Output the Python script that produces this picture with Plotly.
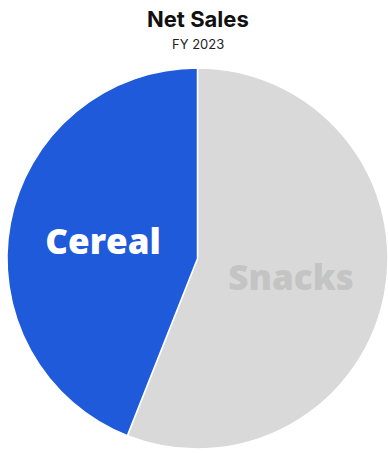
import plotly.graph_objects as go

# Net sales split by segment, FY 2023 (percent of total)
segments = ["Snacks", "Cereal"]
share = [56, 44]
slice_colors = ["#d9d9d9", "#1f5ada"]
label_colors = ["#c4c4c4", "#ffffff"]

fig = go.Figure(
    go.Pie(
        labels=segments,
        values=share,
        sort=False,
        direction="clockwise",
        rotation=0,
        marker=dict(colors=slice_colors, line=dict(color="#ffffff", width=1.5)),
        textinfo="label",
        textposition="inside",
        insidetextorientation="horizontal",
        insidetextfont=dict(family="Open Sans", size=35, color=label_colors, weight=800),
        hoverinfo="label+percent",
        showlegend=False,
    )
)

fig.update_layout(
    width=388,
    height=453,
    margin=dict(l=7, r=0, t=68, b=4),
    paper_bgcolor="#ffffff",
    plot_bgcolor="#ffffff",
    uniformtext=dict(minsize=35, mode="show"),
    annotations=[
        dict(text="<b>Net Sales</b>", x=0.5, y=1, xref="paper", yref="paper",
             xanchor="center", yanchor="top", yshift=64, showarrow=False,
             font=dict(family="Inter", size=22, color="#111111")),
        dict(text="FY 2023", x=0.5, y=1, xref="paper", yref="paper",
             xanchor="center", yanchor="top", yshift=34, showarrow=False,
             font=dict(family="Inter", size=13, color="#222222")),
    ],
)

fig.write_html("out.html")
